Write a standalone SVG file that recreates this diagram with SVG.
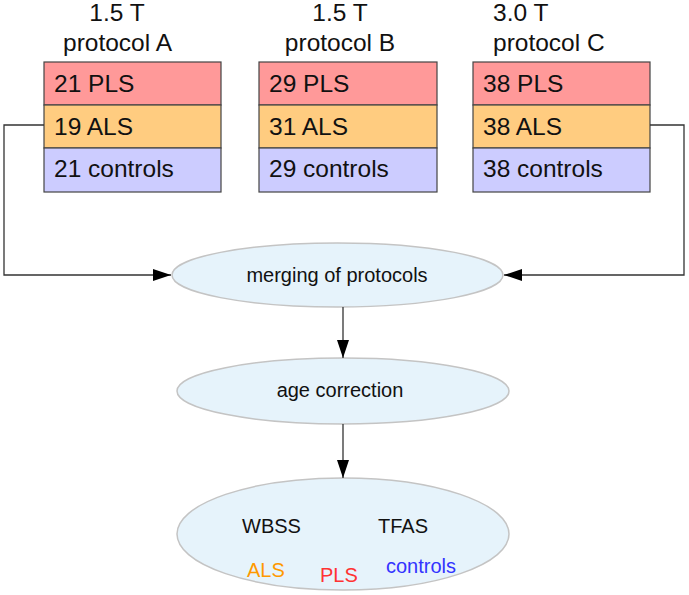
<svg xmlns="http://www.w3.org/2000/svg" width="689" height="595" viewBox="0 0 689 595">
<style>
text{font-family:"Liberation Sans",Arial,sans-serif;fill:#111}
.t{font-size:24.5px}
.b{font-size:24.5px}
.pls{fill:#ff9999;stroke:#444;stroke-width:1.2}
.als{fill:#ffcc80;stroke:#444;stroke-width:1.2}
.ctl{fill:#ccccff;stroke:#444;stroke-width:1.2}
.el{fill:#e6f3fb;stroke:#c4c4c4;stroke-width:1.5}
.c{fill:none;stroke:#333;stroke-width:1.3}
.e{font-size:20px}
</style>
<defs>
<marker id="ah" viewBox="0 0 18 12" refX="18" refY="6" markerWidth="18" markerHeight="12" markerUnits="userSpaceOnUse" orient="auto">
<path d="M0,0 L18,6 L0,12 Z" fill="#000"/>
</marker>
</defs>
<rect width="689" height="595" fill="#fff"/>
<g id="protocolA">
<text class="t" x="117" y="21" text-anchor="middle">1.5 T</text>
<text class="t" x="117.5" y="51" text-anchor="middle">protocol A</text>
<rect class="pls" x="44" y="62" width="177" height="43"/>
<rect class="als" x="44" y="105" width="177" height="43"/>
<rect class="ctl" x="44" y="148" width="177" height="44"/>
<text class="b" x="54" y="92">21 PLS</text>
<text class="b" x="54" y="135">19 ALS</text>
<text class="b" x="54" y="177">21 controls</text>
</g>
<g id="protocolB">
<text class="t" x="340" y="21" text-anchor="middle">1.5 T</text>
<text class="t" x="340" y="51" text-anchor="middle">protocol B</text>
<rect class="pls" x="259" y="62" width="178" height="43"/>
<rect class="als" x="259" y="105" width="178" height="43"/>
<rect class="ctl" x="259" y="148" width="178" height="44"/>
<text class="b" x="269" y="92">29 PLS</text>
<text class="b" x="269" y="135">31 ALS</text>
<text class="b" x="269" y="177">29 controls</text>
</g>
<g id="protocolC">
<text class="t" x="493" y="21">3.0 T</text>
<text class="t" x="493" y="51">protocol C</text>
<rect class="pls" x="473" y="62" width="177" height="43"/>
<rect class="als" x="473" y="105" width="177" height="43"/>
<rect class="ctl" x="473" y="148" width="177" height="44"/>
<text class="b" x="483" y="92">38 PLS</text>
<text class="b" x="483" y="135">38 ALS</text>
<text class="b" x="483" y="177">38 controls</text>
</g>
<g id="merging">
<ellipse class="el" cx="337.5" cy="275" rx="165.5" ry="32"/>
<text class="e" x="337" y="282" text-anchor="middle">merging of protocols</text>
</g>
<g id="age">
<ellipse class="el" cx="343" cy="391" rx="166" ry="33"/>
<text class="e" x="340" y="397" text-anchor="middle">age correction</text>
</g>
<g id="result">
<ellipse class="el" cx="343" cy="534" rx="166" ry="56"/>
<text class="e" x="242" y="533">WBSS</text>
<text class="e" x="378" y="533">TFAS</text>
<text class="e" x="247" y="577" style="fill:#ff9900">ALS</text>
<text class="e" x="320" y="582" style="fill:#ff3333">PLS</text>
<text class="e" x="386" y="573" style="fill:#3333ff">controls</text>
</g>
<g id="connectors">
<path class="c" d="M44,125 H4 V275 H171" marker-end="url(#ah)"/>
<path class="c" d="M650,125 H684 V275 H504" marker-end="url(#ah)"/>
<path class="c" d="M343,307 V358" marker-end="url(#ah)"/>
<path class="c" d="M343,424 V478" marker-end="url(#ah)"/>
</g>
</svg>
